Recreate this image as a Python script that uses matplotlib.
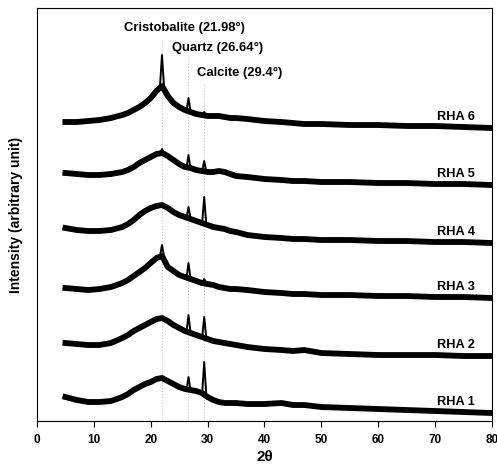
import matplotlib
matplotlib.use("Agg")
import matplotlib.pyplot as plt

plt.rcParams['font.family'] = ['Liberation Sans', 'DejaVu Sans']
plt.rcParams['font.weight'] = 'bold'

# 2-theta grid (degrees) where the smooth background of each pattern was read
two_theta = [5, 7, 9, 11, 13, 15, 16, 17, 18, 19, 20, 21, 22, 23, 24, 25, 26, 27, 28,
             29, 30, 31, 32, 33, 34, 35, 37, 40, 43, 45, 47, 50, 55, 60, 65, 70, 75, 80]

# intensity (arbitrary units) of the broad amorphous hump, per sample
rha1 = [16, 13, 11, 11, 12, 16, 19, 23, 26, 29, 31, 34, 35, 32, 29, 26, 24, 23, 22,
        20, 16, 13, 11, 10, 10, 10, 9, 9, 10, 8, 8, 6, 5, 4, 3, 2, 1, 0]
rha2 = [13, 12, 11, 11, 13, 18, 21, 25, 28, 31, 34, 37, 38, 35, 31, 28, 25, 23, 21,
        19, 17, 15, 14, 13, 12, 11, 9, 7, 6, 5, 6, 3, 2, 1, 1, 1, 0, 0]
rha3 = [10, 9, 8, 9, 11, 15, 18, 22, 26, 30, 35, 40, 42, 31, 27, 23, 21, 19, 17,
        15, 14, 13, 11, 10, 9, 9, 8, 6, 5, 4, 4, 3, 3, 2, 2, 1, 1, 0]
rha4 = [15, 13, 12, 12, 13, 16, 19, 23, 28, 32, 35, 37, 38, 35, 31, 28, 26, 24, 22,
        20, 18, 16, 15, 14, 12, 11, 8, 6, 5, 4, 4, 3, 3, 2, 2, 1, 1, 0]
rha5 = [12, 11, 10, 10, 11, 13, 15, 18, 22, 25, 28, 31, 32, 29, 25, 21, 18, 17, 15,
        14, 13, 13, 14, 13, 11, 9, 8, 6, 5, 4, 4, 3, 3, 2, 2, 1, 1, 0]
rha6 = [6, 6, 7, 8, 10, 13, 15, 18, 21, 25, 30, 37, 42, 32, 25, 21, 18, 16, 14,
        13, 12, 12, 12, 11, 10, 10, 9, 7, 6, 5, 4, 4, 3, 3, 2, 2, 1, 0]

# sharp reflections: (position, background level, peak top) per sample
peaks_rha1 = [(26.64, 23, 36), (29.4, 20, 51)]
peaks_rha2 = [(26.64, 24, 41), (29.4, 19, 39)]
peaks_rha3 = [(21.98, 42, 53), (26.64, 20, 35), (29.4, 15, 19)]
peaks_rha4 = [(26.64, 25, 36), (29.4, 20, 46)]
peaks_rha5 = [(21.98, 32, 36), (26.64, 17, 30), (29.4, 14, 24)]
peaks_rha6 = [(21.98, 42, 73), (26.64, 17, 30), (29.4, 13, 16)]

samples = ['RHA 1', 'RHA 2', 'RHA 3', 'RHA 4', 'RHA 5', 'RHA 6']
patterns = [rha1, rha2, rha3, rha4, rha5, rha6]
peak_sets = [peaks_rha1, peaks_rha2, peaks_rha3, peaks_rha4, peaks_rha5, peaks_rha6]

phases = ['Cristobalite (21.98°)', 'Quartz (26.64°)', 'Calcite (29.4°)']
phase_pos = [21.98, 26.64, 29.4]

# vertical stacking of the patterns
offsets = [8, 65, 123, 178, 236, 293]

fig = plt.figure(figsize=(4.97, 4.68), dpi=100)
ax = fig.add_axes([0.0744, 0.1004, 0.9155, 0.8825])

# reference lines for the phases
line_tops = [383, 363, 338]
label_x = [15.3, 23.7, 28.1]
label_y = [393, 373, 348]
for name, pos, top, lx, ly in zip(phases, phase_pos, line_tops, label_x, label_y):
    ax.plot([pos, pos], [0, top], color='#c8c8c8', lw=0.8, ls=':', zorder=1)
    ax.text(lx, ly, name, fontsize=9.4, fontweight='bold', va='center', ha='left')

for name, y, pk, off in zip(samples, patterns, peak_sets, offsets):
    ax.plot(two_theta, [v + off for v in y], color='black', lw=4.2,
            solid_joinstyle='round', zorder=3)
    for pos, base, top in pk:
        ax.plot([pos - 0.35, pos, pos + 0.35], [base + off, top + off, base + off],
                color='black', lw=1.4, zorder=4)
    ax.text(77.0, off + 11, name, fontsize=9.2, fontweight='bold', ha='right', va='center')

ax.set_xlim(0, 80)
ax.set_ylim(0, 413)
ax.set_xticks(range(0, 81, 10))
ax.set_yticks([])
ax.tick_params(axis='x', direction='out', length=4, width=0.8, labelsize=8.5, pad=5)
for lab in ax.get_xticklabels():
    lab.set_fontweight('bold')
for s in ax.spines.values():
    s.set_linewidth(0.8)

ax.set_xlabel('2θ', fontsize=11, fontweight='bold', labelpad=3)
ax.set_ylabel('Intensity (arbitrary unit)', fontsize=10, fontweight='bold', labelpad=10)

fig.savefig('out.png', dpi=100)
